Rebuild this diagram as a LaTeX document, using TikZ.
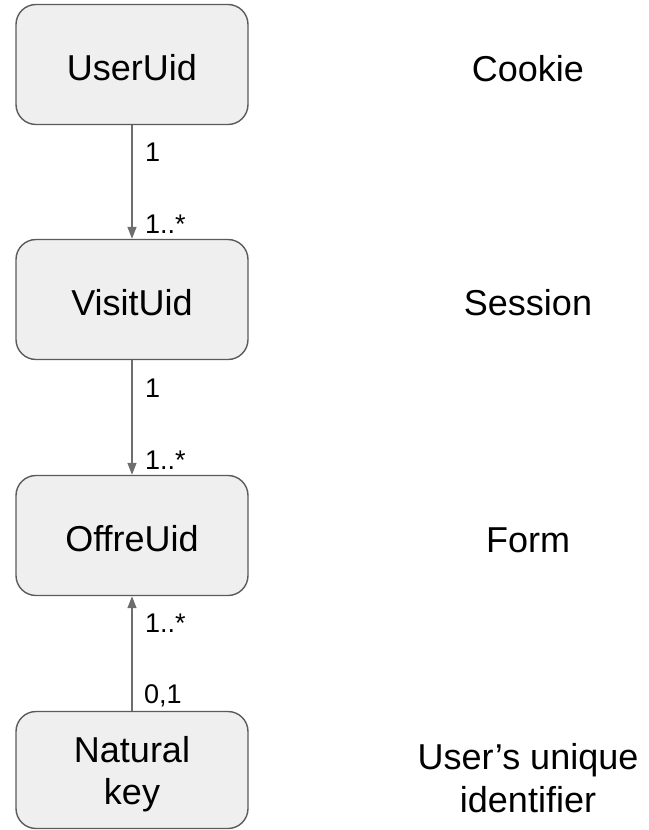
\documentclass[tikz,border=0pt]{standalone}
\usepackage{fontspec}
\setmainfont{Liberation Sans}
\usetikzlibrary{arrows.meta}
\definecolor{boxfill}{HTML}{EFEFEF}
\definecolor{boxline}{HTML}{5B5B5B}
\definecolor{connline}{HTML}{6E6E6E}
\begin{document}
\begin{tikzpicture}[x=1pt,y=-1pt,
  entity/.style={draw=boxline, fill=boxfill, line width=1.4pt, rounded corners=20pt,
    minimum width=232pt, minimum height=120pt, inner sep=0pt, align=center,
    font=\fontsize{36}{42}\selectfont},
  oneline/.style={text height=31pt, text depth=0pt},
  role/.style={align=center, inner sep=0pt, font=\fontsize{36}{43}\selectfont},
  mult/.style={anchor=base west, inner sep=0pt, font=\fontsize{27}{30}\selectfont},
  conn/.style={draw=connline, line width=1.4pt, -{Triangle[width=9pt,length=12pt]}}]
\useasboundingbox (0,0) rectangle (648,830);
\node[entity, oneline] (user) at (132,64.5) {UserUid};
\node[entity, oneline] (visit) at (132,299.5) {VisitUid};
\node[entity, oneline] (offre) at (132,535.5) {OffreUid};
\node[entity, minimum height=117pt, text height=76pt] (natural) at (132,770) {Natural\\key};

\node[role, anchor=base] (cookie) at (528,81) {Cookie};
\node[role, anchor=base] (session) at (528,315) {Session};
\node[role, anchor=base] (form) at (528,552) {Form};
\node[role] (ident) at (528,778.5) {User’s unique\\identifier};

\draw[conn] (user.south) -- (visit.north);
\draw[conn] (visit.south) -- (offre.north);
\draw[conn] (natural.north) -- (offre.south);

\node[mult] (m1a) at (145,161) {1};
\node[mult] (m1b) at (145,233) {1..*};
\node[mult] (m2a) at (145,397) {1};
\node[mult] (m2b) at (145,469) {1..*};
\node[mult] (m3a) at (145,632) {1..*};
\node[mult] (m3b) at (144,703) {0,1};
\end{tikzpicture}
\end{document}
